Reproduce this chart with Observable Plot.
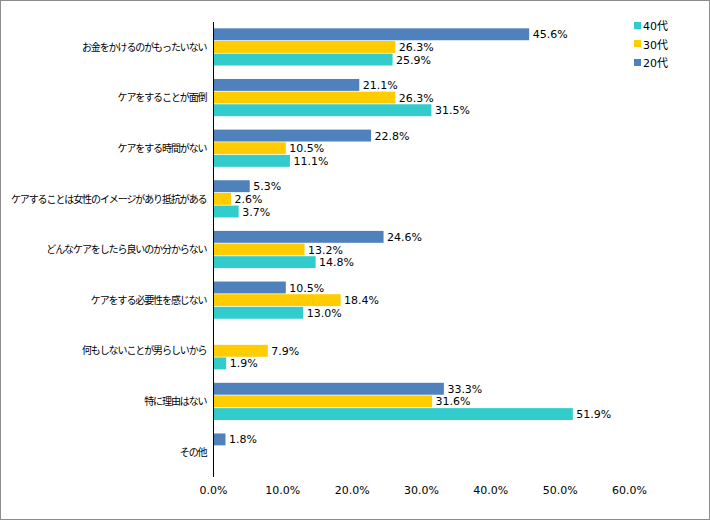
<!DOCTYPE html>
<html><head><meta charset="utf-8">
<script src="https://cdn.jsdelivr.net/npm/d3@7"></script>
<script src="https://cdn.jsdelivr.net/npm/@observablehq/plot@0.6"></script>
<style>
body{margin:0;background:#fff;}
#wrap{position:relative;width:710px;height:520px;overflow:hidden;}
#border{position:absolute;left:0;top:0;width:708px;height:518px;border:1px solid #8c8c8c;pointer-events:none;}
#legend{position:absolute;left:634px;top:16px;font-family:"DejaVu Sans","Noto Sans CJK JP",sans-serif;font-size:11px;color:#000;}
#legend div{height:18.5px;display:flex;align-items:center;}
#legend span.sw{display:inline-block;width:7px;height:7px;margin-right:2px;}
#chart{position:absolute;left:0;top:0;}
.catlabel text{letter-spacing:-1.1px;}
</style></head>
<body>
<div id="wrap"><div id="chart"></div><div id="legend"></div><div id="border"></div></div>
<script>
const categories = [
  "お金をかけるのがもったいない",
  "ケアをすることが面倒",
  "ケアをする時間がない",
  "ケアすることは女性のイメージがあり抵抗がある",
  "どんなケアをしたら良いのか分からない",
  "ケアをする必要性を感じない",
  "何もしないことが男らしいから",
  "特に理由はない",
  "その他"
];
const series = ["20代", "30代", "40代"];
const values20 = [45.6, 21.1, 22.8, 5.3, 24.6, 10.5, null, 33.3, 1.8];
const values30 = [26.3, 26.3, 10.5, 2.6, 13.2, 18.4, 7.9, 31.6, null];
const values40 = [25.9, 31.5, 11.1, 3.7, 14.8, 13.0, 1.9, 51.9, null];
const colors = ["#4F81BD", "#FFCC00", "#33CCCC"];
const xTicks = [0, 10, 20, 30, 40, 50, 60];

const seriesValues = [values20, values30, values40];
const data = [];
categories.forEach((c, i) => {
  series.forEach((s, j) => {
    const v = seriesValues[j][i];
    if (v != null) data.push({cat: c, s, key: c + "|" + s, v});
  });
});
const yDomain = [];
categories.forEach((c, i) => {
  series.forEach(s => yDomain.push(c + "|" + s));
  if (i < categories.length - 1) yDomain.push(c + "|gap");
});
const labels = categories.map(c => ({cat: c, key: c + "|30代"}));

const chart = Plot.plot({
  width: 710,
  height: 520,
  marginLeft: 213,
  marginRight: 81,
  marginTop: 22,
  marginBottom: 43,
  style: {fontFamily: "DejaVu Sans, 'Noto Sans CJK JP', sans-serif", fontSize: "11px", color: "#000", background: "transparent"},
  x: {domain: [0, 60], ticks: xTicks, tickFormat: d => d.toFixed(1) + "%", tickSize: 0, tickPadding: 9, label: null},
  y: {domain: yDomain, axis: null, paddingInner: 0.06, paddingOuter: 0.5, round: false},
  color: {domain: series, range: colors},
  marks: [
    Plot.barX(data, {x: "v", y: "key", fill: "s"}),
    Plot.text(data, {x: "v", y: "key", text: d => d.v.toFixed(1) + "%", textAnchor: "start", dx: 3, fill: "#000", fontSize: 11}),
    Plot.text(labels, {x: () => 0, y: "key", text: "cat", textAnchor: "end", dx: -7, fill: "#000", fontSize: 10, fontFamily: "'Noto Sans CJK JP', sans-serif", className: "catlabel"}),
    Plot.ruleX([0], {stroke: "#000", strokeWidth: 1}),
    Plot.ruleY([0], {stroke: "#000", strokeWidth: 1})
  ]
});
document.getElementById("chart").appendChild(chart);

const legend = document.getElementById("legend");
[2, 1, 0].forEach(j => {
  const row = document.createElement("div");
  row.innerHTML = `<span class="sw" style="background:${colors[j]}"></span>${series[j]}`;
  legend.appendChild(row);
});
</script>
</body></html>
